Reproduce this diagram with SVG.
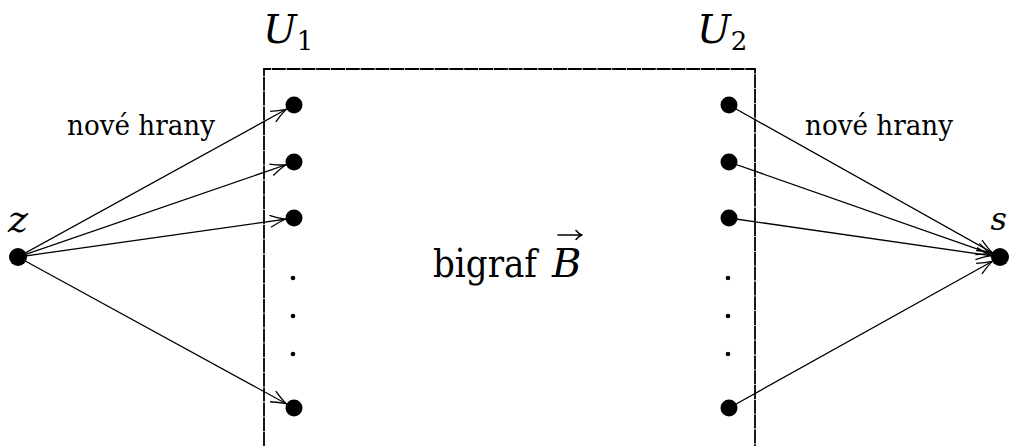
<svg xmlns="http://www.w3.org/2000/svg" width="1009" height="446" viewBox="0 0 1009 446">
<style>
.edge{stroke:#000;stroke-width:1.3;fill:none}
.box{stroke:#000;stroke-width:1.8;fill:none;stroke-dasharray:14 0.8}
.node{fill:#000}
.acc{stroke:#000;stroke-width:1.6;fill:none;stroke-linecap:round;stroke-linejoin:round}
text{font-family:'DejaVu Serif','Liberation Serif',serif;fill:#000}
.it{font-style:italic}
</style>
<defs>
<marker id="arr" markerUnits="userSpaceOnUse" viewBox="-26 -8 28 16" refX="0" refY="0" markerWidth="28" markerHeight="16" orient="auto" overflow="visible">
<path d="M -24 -6 Q -16 -2 -9 0 Q -16 2 -24 6" stroke="#000" stroke-width="1.3" fill="none"/>
</marker>
</defs>
<rect width="1009" height="446" fill="#fff"/>
<g id="box">
<path class="box" d="M264 446 V69 H755 V446"/>
</g>
<g id="labels">
<text x="263" y="43" font-size="40"><tspan class="it">U</tspan><tspan font-size="26" dy="7">1</tspan></text>
<text x="697" y="43" font-size="40"><tspan class="it">U</tspan><tspan font-size="26" dy="7">2</tspan></text>
<text x="67" y="135" font-size="27" textLength="148" lengthAdjust="spacingAndGlyphs">nové hrany</text>
<text x="805" y="135" font-size="27" textLength="148" lengthAdjust="spacingAndGlyphs">nové hrany</text>
<text x="433" y="277" font-size="40"><tspan textLength="104" lengthAdjust="spacingAndGlyphs">bigraf</tspan><tspan class="it" x="552">B</tspan></text>
<path class="acc" d="M558 235 H582 M576 230.5 Q579 234 582 235 Q579 236 576 239.5"/>
</g>
<g id="connectors">
<line class="edge" x1="18" y1="257" x2="294" y2="105" marker-end="url(#arr)"/>
<line class="edge" x1="18" y1="257" x2="294" y2="162" marker-end="url(#arr)"/>
<line class="edge" x1="18" y1="257" x2="294" y2="218" marker-end="url(#arr)"/>
<line class="edge" x1="18" y1="257" x2="294" y2="408" marker-end="url(#arr)"/>
<line class="edge" x1="729" y1="105" x2="1000" y2="257" marker-end="url(#arr)"/>
<line class="edge" x1="729" y1="162" x2="1000" y2="257" marker-end="url(#arr)"/>
<line class="edge" x1="729" y1="218" x2="1000" y2="257" marker-end="url(#arr)"/>
<line class="edge" x1="729" y1="408" x2="1000" y2="257" marker-end="url(#arr)"/>
</g>
<g id="z"><circle class="node" cx="18" cy="257" r="9"/><text class="it" x="8" y="232" font-size="38">z</text></g>
<g id="s"><circle class="node" cx="1000" cy="257" r="9"/><text class="it" x="1007" y="230" font-size="32" text-anchor="end">s</text></g>
<g id="u1a"><circle class="node" cx="294" cy="105" r="8.5"/></g>
<g id="u1b"><circle class="node" cx="294" cy="162" r="8.5"/></g>
<g id="u1c"><circle class="node" cx="294" cy="218" r="8.5"/></g>
<g id="u1dots"><circle class="node" cx="293" cy="278" r="2.3"/><circle class="node" cx="293" cy="316" r="2.3"/><circle class="node" cx="293" cy="354" r="2.3"/></g>
<g id="u1n"><circle class="node" cx="294" cy="408" r="8.5"/></g>
<g id="u2a"><circle class="node" cx="729" cy="105" r="8.5"/></g>
<g id="u2b"><circle class="node" cx="729" cy="162" r="8.5"/></g>
<g id="u2c"><circle class="node" cx="729" cy="218" r="8.5"/></g>
<g id="u2dots"><circle class="node" cx="728" cy="278" r="2.3"/><circle class="node" cx="728" cy="316" r="2.3"/><circle class="node" cx="728" cy="354" r="2.3"/></g>
<g id="u2n"><circle class="node" cx="729" cy="408" r="8.5"/></g>
</svg>
